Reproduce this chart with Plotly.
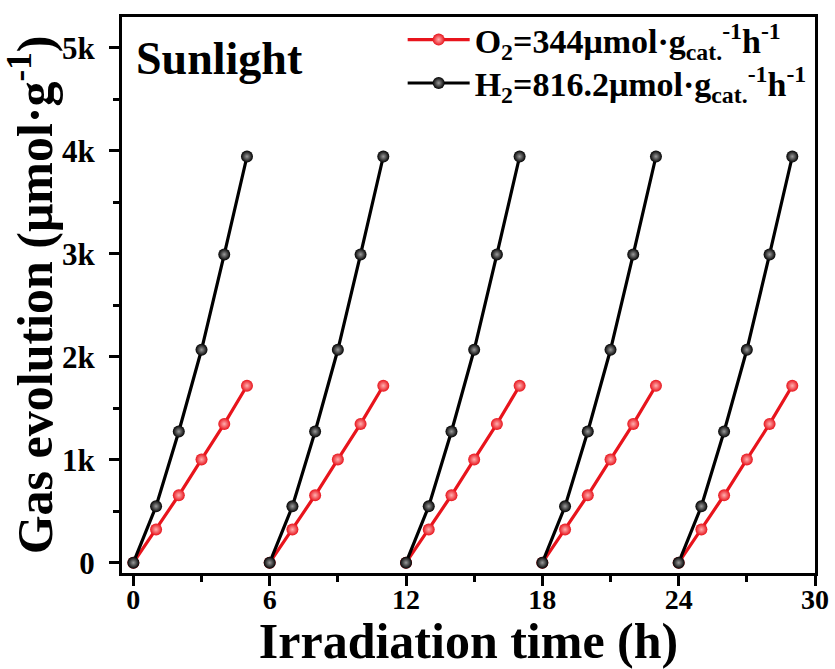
import plotly.graph_objects as go

# Irradiation time (h) for the five cycles
time_h = [0, 1, 2, 3, 4, 5, None,
          6, 7, 8, 9, 10, 11, None,
          12, 13, 14, 15, 16, 17, None,
          18, 19, 20, 21, 22, 23, None,
          24, 25, 26, 27, 28, 29]

# O2 evolution (µmol/g)
o2_values = [0, 323, 655, 1003, 1348, 1719, None,
             0, 323, 655, 1003, 1348, 1719, None,
             0, 323, 655, 1003, 1348, 1719, None,
             0, 323, 655, 1003, 1348, 1719, None,
             0, 323, 655, 1003, 1348, 1719]

# H2 evolution (µmol/g)
h2_values = [0, 548, 1274, 2068, 2994, 3945, None,
             0, 548, 1274, 2068, 2994, 3945, None,
             0, 548, 1274, 2068, 2994, 3945, None,
             0, 548, 1274, 2068, 2994, 3945, None,
             0, 548, 1274, 2068, 2994, 3945]

o2_label = "<b>O<sub>2</sub>=344μmol·g<sub>cat.</sub><sup>-1</sup>h<sup>-1</sup></b>"
h2_label = "<b>H<sub>2</sub>=816.2μmol·g<sub>cat.</sub><sup>-1</sup>h<sup>-1</sup></b>"

FONT = "Liberation Serif"
RED = "#e8141c"

fig = go.Figure()
fig.add_trace(go.Scatter(
    x=time_h, y=o2_values, name=o2_label, mode="lines+markers",
    line=dict(color=RED, width=3.2),
    marker=dict(size=12, color=RED, line=dict(width=0),
                gradient=dict(type="radial", color="#ffb0b0")),
    connectgaps=False, legend="legend",
))
fig.add_trace(go.Scatter(
    x=time_h, y=h2_values, name=h2_label, mode="lines+markers",
    line=dict(color="black", width=3.2),
    marker=dict(size=12, color="black", line=dict(width=0),
                gradient=dict(type="radial", color="#9a9a9a")),
    connectgaps=False, legend="legend2",
))

legend_common = dict(xanchor="left", yanchor="middle", bgcolor="rgba(0,0,0,0)",
                     font=dict(family=FONT, size=34, color="black"),
                     itemwidth=62, tracegroupgap=0)

fig.update_layout(
    width=835, height=669,
    margin=dict(l=122, r=20, t=16, b=96),
    paper_bgcolor="white", plot_bgcolor="white",
    font=dict(family=FONT, color="black", size=24),
    showlegend=True,
    legend=dict(x=0.405, y=0.957, **legend_common),
    legend2=dict(x=0.405, y=0.879, **legend_common),
    annotations=[dict(text="<b>Sunlight</b>", xref="paper", yref="paper",
                      x=0.018, y=0.975, xanchor="left", yanchor="top",
                      showarrow=False, font=dict(family=FONT, size=46, color="black"))],
)

fig.update_xaxes(
    range=[-0.5, 30], dtick=6, tick0=0, automargin=False,
    showline=True, linewidth=3, linecolor="black", mirror=True,
    ticks="outside", ticklen=10, tickwidth=3, tickcolor="black",
    minor=dict(dtick=3, ticks="outside", ticklen=6, tickwidth=2.5, tickcolor="black"),
    showgrid=False, zeroline=False, ticklabelstandoff=-11,
    tickfont=dict(family=FONT, size=28, color="black", weight="bold"),
    title=dict(text="<b>Irradiation time (h)</b>", standoff=14,
               font=dict(family=FONT, size=50, color="black")),
)
fig.update_yaxes(
    range=[-100, 5300], dtick=1000, tick0=0, tickformat="~s", automargin=False,
    showline=True, linewidth=3, linecolor="black", mirror=True,
    ticks="outside", ticklen=10, tickwidth=3, tickcolor="black",
    minor=dict(dtick=500, ticks="outside", ticklen=6, tickwidth=2.5, tickcolor="black"),
    showgrid=False, zeroline=False, ticklabelstandoff=8,
    tickfont=dict(family=FONT, size=31, color="black", weight="bold"),
    title=dict(text="<b>Gas evolution (μmol·g<sup>-1</sup>)</b>", standoff=4,
               font=dict(family=FONT, size=50, color="black")),
)

fig.write_html("out.html", config={"displayModeBar": False},
               post_script="document.body.style.margin='0';document.body.style.overflow='hidden';")
